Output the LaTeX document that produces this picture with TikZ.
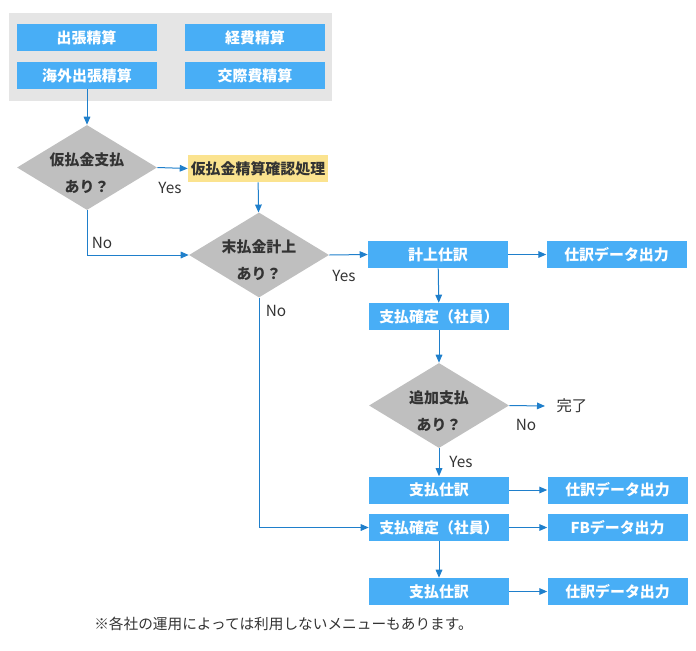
\documentclass[tikz,border=0pt]{standalone}
\usepackage{fontspec}
\setmainfont{Noto Sans CJK JP}
\usepackage{xcolor}
\usepackage{tikz}
\usetikzlibrary{shapes.geometric, arrows.meta, positioning}

\definecolor{boxblue}{HTML}{48AEF6}
\definecolor{lineblue}{HTML}{1F7FCB}
\definecolor{diagray}{HTML}{BFBFBF}
\definecolor{panelgray}{HTML}{E5E5E5}
\definecolor{memoyellow}{HTML}{FBE38F}
\definecolor{inkgray}{HTML}{333333}

\tikzset{
  %% Menu / process box
  mbox/.style={
    rectangle, fill=#1, text=white,
    font=\bfseries\fontsize{11.2}{13}\selectfont,
    minimum width=105pt, minimum height=20.25pt,
    inner sep=0pt
  },
  mbox/.default=boxblue,
  %% Highlighted check box
  ybox/.style={mbox=memoyellow, text=inkgray},
  %% Decision diamond (shape only)
  dia/.style={
    diamond, fill=diagray, inner sep=0pt,
    minimum width=105pt, minimum height=63.75pt
  },
  %% Text inside the diamond
  diatext/.style={
    text=inkgray, align=center, inner sep=0pt,
    font=\bfseries\fontsize{11.2}{20.5}\selectfont
  },
  %% Arrow
  arr/.style={-{Triangle[length=6pt,width=5pt]},
              draw=lineblue, line width=0.75pt},
  %% Yes / No labels
  lbl/.style={text=inkgray, font=\fontsize{11.5}{13}\selectfont, inner sep=0pt},
}

\begin{document}
\begin{tikzpicture}[x=0.75pt, y=-0.75pt]
  \useasboundingbox (0,0) rectangle (696,650);

  %% Menu panel
  \node[rectangle, fill=panelgray, minimum width=242.25pt,
        minimum height=66pt, inner sep=0pt] (panel) at (170.5,57) {};
  \node[mbox] (trip)    at (86.5,37.5) {出張精算};
  \node[mbox] (expense) at (255,37.5)  {経費精算};
  \node[mbox] (abroad)  at (87,75.5)   {海外出張精算};
  \node[mbox] (social)  at (255,75.5)  {交際費精算};

  %% Advance payment check
  \node[dia] (d1) at (87,167.5) {};
  \node[diatext] (d1t) at (87,173) {仮払金支払\\あり？};
  \node[ybox] (memo) at (258,168.5) {仮払金精算確認処理};

  %% Unpaid booking check
  \node[dia] (d2) at (259,255) {};
  \node[diatext] (d2t) at (259,260) {末払金計上\\あり？};

  %% Booking column
  \node[mbox] (book)  at (438,254.5) {計上仕訳};
  \node[mbox, right=28.5pt of book] (out1) {仕訳データ出力};
  \node[mbox] (fix1)  at (439,316.5) {支払確定（社員）};

  %% Additional payment check
  \node[dia] (d3) at (439,405.5) {};
  \node[diatext] (d3t) at (439,411) {追加支払\\あり？};
  \node[lbl, anchor=west, inner xsep=8.5pt] (done) at (545,406) {完了};

  %% Payment rows
  \node[mbox] (pay1) at (439,490)   {支払仕訳};
  \node[mbox, right=28.5pt of pay1] (out2) {仕訳データ出力};
  \node[mbox] (fix2) at (439,527.5) {支払確定（社員）};
  \node[mbox, right=28.5pt of fix2] (fb)   {FBデータ出力};
  \node[mbox] (pay2) at (439,591.5) {支払仕訳};
  \node[mbox, right=28.5pt of pay2] (out3) {仕訳データ出力};

  %% Note
  \node[text=inkgray, font=\fontsize{11}{13}\selectfont, inner sep=0pt]
        (note) at (283.5,623.5) {※各社の運用によっては利用しないメニューもあります。};

  %% Straight arrows
  \foreach \a/\b in {abroad/d1, memo/d2, book/out1, book/fix1, fix1/d3,
                     pay1/out2, fix2/fb, fix2/pay2, pay2/out3}
    \draw[arr] (\a) -- (\b);

  %% Branch arrows
  \draw[arr] (d1.east) -- (memo.west);
  \node[lbl] (y1) at (170,188) {Yes};
  \draw[arr] (d1.south) |- (d2.west);
  \node[lbl] (n1) at (102,243) {No};
  \draw[arr] (d2.east) -- (book.west);
  \node[lbl] (y2) at (344,276) {Yes};
  \draw[arr] (d2.south) |- (fix2.west);
  \node[lbl] (n2) at (276,311) {No};
  \draw[arr] (d3.east) -- (done.west);
  \node[lbl] (n3) at (526,425) {No};
  \draw[arr] (d3.south) -- (pay1.north);
  \node[lbl] (y3) at (461,462) {Yes};

\end{tikzpicture}
\end{document}
